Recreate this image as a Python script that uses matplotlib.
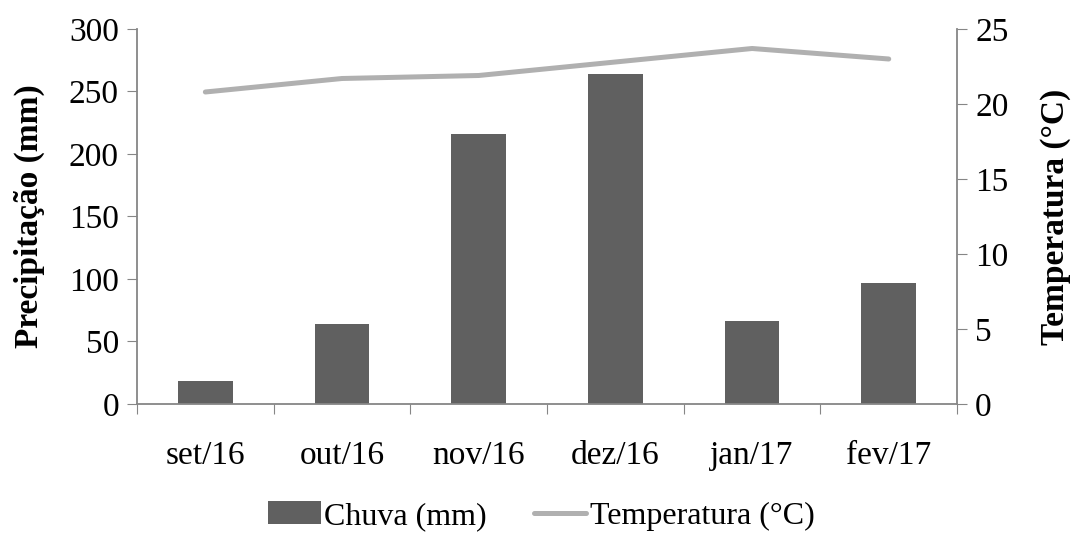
import matplotlib
matplotlib.use("Agg")
import matplotlib.pyplot as plt
import numpy as np

plt.rcParams['font.family'] = ['Liberation Serif', 'DejaVu Serif']

months = ['set/16', 'out/16', 'nov/16', 'dez/16', 'jan/17', 'fev/17']
chuva = [18, 64, 216, 264, 66, 97]
temperatura = [20.8, 21.7, 21.9, 22.8, 23.7, 23.0]

FS = 24
fig = plt.figure(figsize=(10.72, 5.37), dpi=100)
ax = fig.add_axes([0.1278, 0.2477, 0.765, 0.6983])
x = np.arange(len(months))
bars = ax.bar(x, chuva, width=0.4, color='#606060', label='Chuva (mm)', zorder=2)
ax.set_xlim(-0.5, len(months) - 0.5)
ax.set_ylim(0, 300)
ax.set_yticks(np.arange(0, 301, 50))
ax.set_xticks(np.arange(-0.5, len(months), 1.0))
ax.set_xticklabels([])
ax.set_xticks(x, minor=True)
ax.set_xticklabels(months, minor=True)
ax.tick_params(axis='x', which='minor', length=0, pad=26, labelsize=FS)
ax.tick_params(axis='x', which='major', length=7, color='#868686', direction='out')
ax.tick_params(axis='y', length=7, color='#868686', labelsize=FS, direction='out', pad=6)
for s in ['top', 'right']:
    ax.spines[s].set_visible(False)
for s in ['left', 'bottom']:
    ax.spines[s].set_color('#868686')
    ax.spines[s].set_linewidth(1.3)
ax.set_ylabel('Precipitação (mm)', fontsize=FS, fontweight='bold', labelpad=17)

ax2 = ax.twinx()
line, = ax2.plot(x, temperatura, color='#b0b0b0', lw=3.6, solid_capstyle='round', label='Temperatura (°C)', zorder=3)
ax2.set_ylim(0, 25)
ax2.set_yticks(np.arange(0, 26, 5))
ax2.tick_params(axis='y', length=7, color='#868686', labelsize=FS, direction='out', pad=6)
for s in ['top', 'left', 'bottom']:
    ax2.spines[s].set_visible(False)
ax2.spines['right'].set_color('#868686')
ax2.spines['right'].set_linewidth(1.3)
ax2.set_ylabel('Temperatura (°C)', fontsize=FS, fontweight='bold', labelpad=23)

fig.legend([bars, line], ['Chuva (mm)', 'Temperatura (°C)'], loc='lower center',
           bbox_to_anchor=(0.505, -0.042), ncol=2, frameon=False, fontsize=23,
           handlelength=1.63, handletextpad=0.1, columnspacing=1.5)

fig.savefig('out.png', dpi=100)
